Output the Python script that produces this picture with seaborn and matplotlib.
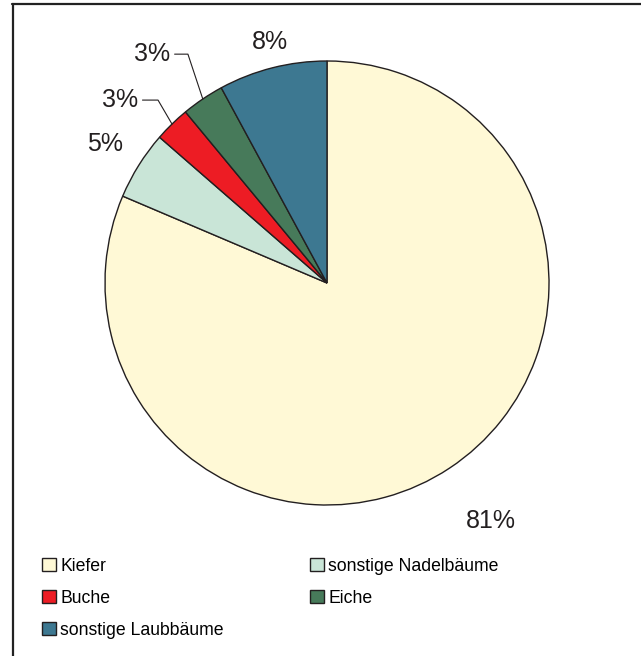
import numpy as np
import matplotlib
matplotlib.use("Agg")
import matplotlib.pyplot as plt
from matplotlib.lines import Line2D
import seaborn as sns

species = ["Kiefer", "sonstige Nadelbäume", "Buche", "Eiche", "sonstige Laubbäume"]
shares = [81.4, 5.0, 2.6, 3.1, 7.9]
colors = ["#fff9d6", "#c9e5d7", "#ed1c24", "#477a5a", "#3d7891"]

sns.set_theme(style="white")
plt.rcParams["font.family"] = ["Liberation Sans", "DejaVu Sans"]

INK = "#231f20"

fig = plt.figure(figsize=(6.41, 6.56), dpi=100)
# pie centre at (327, 283) px, radius 222 px
ax = fig.add_axes([105 / 641, 151 / 656, 444 / 641, 444 / 656])
wedges, _ = ax.pie(
    shares,
    colors=colors,
    startangle=90,
    counterclock=False,
    radius=1,
    wedgeprops=dict(edgecolor=INK, linewidth=1.0),
)
ax.set_xlim(-1, 1)
ax.set_ylim(-1, 1)
ax.set_aspect("equal")
ax.axis("off")

mids = [np.deg2rad((w.theta1 + w.theta2) / 2) for w in wedges]
labels = [f"{v:.0f}%" for v in shares]

# plain labels outside the pie (radius, angle shift in degrees)
plain = {0: (1.30, 1.0), 1: (1.18, 0.0), 4: (1.115, -1.0)}
for i, (r, da) in plain.items():
    a = mids[i] + np.deg2rad(da)
    ax.text(r * np.cos(a), r * np.sin(a), labels[i],
            ha="center", va="center", fontsize=18, color=INK, clip_on=False)

# labels with leader lines (rise, shift, horizontal run) in data units
leaders = {2: (0.108, 0.063, 0.07), 3: (0.202, 0.067, 0.06)}
for i, (rise, shift, run) in leaders.items():
    x0, y0 = np.cos(mids[i]), np.sin(mids[i])
    xe, ye = x0 - shift, y0 + rise
    xt = xe - run
    ax.plot([x0, xe, xt], [y0, ye, ye], color=INK, lw=0.8, clip_on=False)
    ax.text(xt - 0.02, ye, labels[i], ha="right", va="center",
            fontsize=18, color=INK, clip_on=False)

# legend: row-major order across two columns
order = [0, 2, 4, 1, 3]
leg = fig.legend(
    [wedges[i] for i in order],
    [species[i] for i in order],
    ncol=2,
    loc="upper left",
    bbox_to_anchor=(42 / 641, 1 - 558 / 656),
    frameon=False,
    fontsize=12.7,
    handlelength=0.78,
    handleheight=0.78,
    handletextpad=0.25,
    columnspacing=4.9,
    labelspacing=0.84,
    borderpad=0,
    borderaxespad=0,
)
for t in leg.get_texts():
    t.set_color("black")

# frame: top and left border only
fig.add_artist(Line2D([12 / 641, 1], [1 - 3.5 / 656, 1 - 3.5 / 656],
                      transform=fig.transFigure, color="#222222", lw=1.6))
fig.add_artist(Line2D([12.5 / 641, 12.5 / 641], [0, 1 - 3.5 / 656],
                      transform=fig.transFigure, color="#222222", lw=1.6))

fig.savefig("out.png", dpi=100, facecolor="white")
